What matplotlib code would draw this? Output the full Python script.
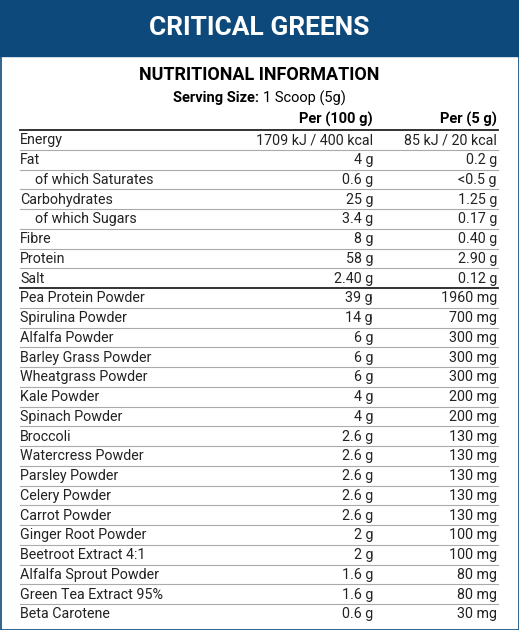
import matplotlib
matplotlib.use("Agg")
import matplotlib.pyplot as plt

labels = ["Energy", "Fat", "of which Saturates", "Carbohydrates", "of which Sugars",
          "Fibre", "Protein", "Salt", "Pea Protein Powder", "Spirulina Powder",
          "Alfalfa Powder", "Barley Grass Powder", "Wheatgrass Powder", "Kale Powder",
          "Spinach Powder", "Broccoli", "Watercress Powder", "Parsley Powder",
          "Celery Powder", "Carrot Powder", "Ginger Root Powder", "Beetroot Extract 4:1",
          "Alfalfa Sprout Powder", "Green Tea Extract 95%", "Beta Carotene"]
per100 = ["1709 kJ / 400 kcal", "4 g", "0.6 g", "25 g", "3.4 g", "8 g", "58 g", "2.40 g",
          "39 g", "14 g", "6 g", "6 g", "6 g", "4 g", "4 g", "2.6 g", "2.6 g", "2.6 g",
          "2.6 g", "2.6 g", "2 g", "2 g", "1.6 g", "1.6 g", "0.6 g"]
per5 = ["85 kJ / 20 kcal", "0.2 g", "<0.5 g", "1.25 g", "0.17 g", "0.40 g", "2.90 g", "0.12 g",
        "1960 mg", "700 mg", "300 mg", "300 mg", "300 mg", "200 mg", "200 mg", "130 mg",
        "130 mg", "130 mg", "130 mg", "130 mg", "100 mg", "100 mg", "80 mg", "80 mg", "30 mg"]
indented = {"of which Saturates", "of which Sugars"}

plt.rcParams['font.family'] = ['Roboto', 'DejaVu Sans']
fig = plt.figure(figsize=(5.19, 6.30), dpi=100)
ax = fig.add_axes([0, 0, 1, 1])
ax.set_xlim(0, 519)
ax.set_ylim(630, 0)
ax.axis("off")

blue = "#0d4a7b"
ax.add_patch(plt.Rectangle((0, 0), 519, 56, color=blue))
ax.add_patch(plt.Rectangle((0.5, 0), 518, 629.5, fill=False, ec=blue, lw=1.2))
ax.text(259, 28, "CRITICAL GREENS", color="white", fontsize=19, fontweight="bold",
        ha="center", va="center")
ax.text(259, 75, "NUTRITIONAL INFORMATION", fontsize=13, fontweight="bold",
        ha="center", va="center")
ax.text(259, 98, "Serving Size:", fontsize=10.5, fontweight="bold", ha="right", va="center")
ax.text(263, 98, "1 Scoop (5g)", fontsize=10.5, ha="left", va="center")
ax.text(373, 119, "Per (100 g)", fontsize=10.5, fontweight="bold", ha="right", va="center")
ax.text(497, 119, "Per (5 g)", fontsize=10.5, fontweight="bold", ha="right", va="center")

x0, x1 = 20, 498
step = 19.75
top = 130
ax.plot([x0, x1], [top, top], color="#222222", lw=1.3)
for i, (lab, a, b) in enumerate(zip(labels, per100, per5)):
    yc = top + step * (i + 0.5) + 0.5
    xl = x0 + (15 if lab in indented else 0)
    ax.text(xl, yc, lab, fontsize=10.3, ha="left", va="center", color="#222222")
    ax.text(373, yc, a, fontsize=10.3, ha="right", va="center", color="#222222")
    ax.text(497, yc, b, fontsize=10.3, ha="right", va="center", color="#222222")
    if i < len(labels) - 1:
        ysep = top + step * (i + 1)
        if lab == "Salt":
            ax.plot([x0, x1], [ysep, ysep], color="#222222", lw=1.3)
        else:
            ax.plot([x0, x1], [ysep, ysep], color="#aaaaaa", lw=0.8)

fig.savefig("out.png", dpi=100)
